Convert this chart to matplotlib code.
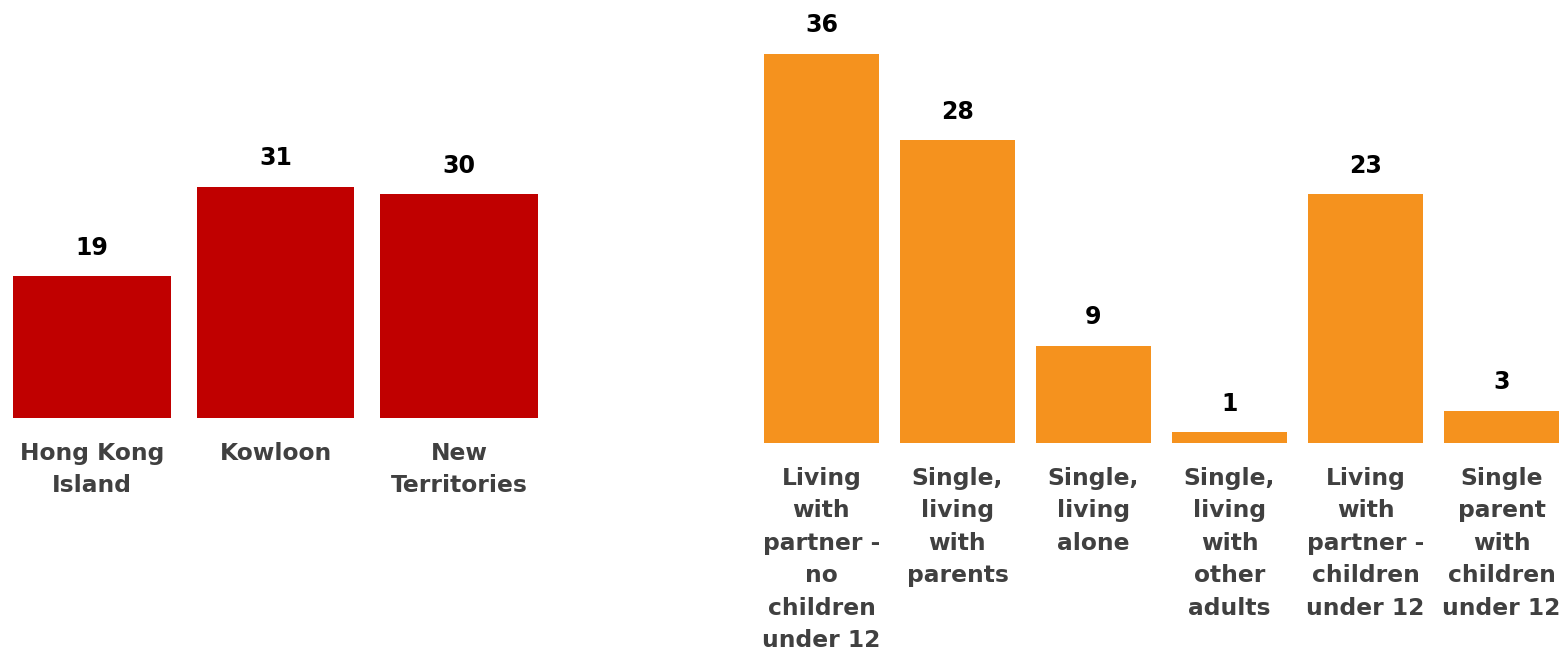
import matplotlib.pyplot as plt

# district split
districts = ["Hong Kong\nIsland", "Kowloon", "New\nTerritories"]
district_pct = [19, 31, 30]

# household type split
households = [
    "Living\nwith\npartner -\nno\nchildren\nunder 12",
    "Single,\nliving\nwith\nparents",
    "Single,\nliving\nalone",
    "Single,\nliving\nwith\nother\nadults",
    "Living\nwith\npartner -\nchildren\nunder 12",
    "Single\nparent\nwith\nchildren\nunder 12",
]
household_pct = [36, 28, 9, 1, 23, 3]

plt.rcParams['font.family'] = ['DejaVu Sans']
plt.rcParams['font.weight'] = 'bold'

W, H = 1566, 655
fig = plt.figure(figsize=(W / 100, H / 100), dpi=100)

# axes placed in pixel terms: left, baseline, right
ax1 = fig.add_axes([13 / W, (H - 418) / H, 525 / W, 418 / H])
ax2 = fig.add_axes([764 / W, (H - 443) / H, 795 / W, 443 / H])


def draw(ax, labels, values, color, width, ymax):
    x = range(len(values))
    bars = ax.bar(x, values, width=width, color=color)
    for b, v in zip(bars, values):
        ax.annotate(str(v), (b.get_x() + b.get_width() / 2, v),
                    xytext=(0, 12), textcoords='offset points',
                    ha='center', va='bottom', fontsize=17,
                    color='black', fontweight='bold')
    ax.set_xlim(-width / 2, len(values) - 1 + width / 2)
    ax.set_ylim(0, ymax)
    ax.set_xticks(list(x))
    ax.set_xticklabels(labels, fontsize=16.8, color='#404040',
                       linespacing=1.53)
    ax.tick_params(axis='x', length=0, pad=17)
    ax.set_yticks([])
    for s in ax.spines.values():
        s.set_visible(False)


draw(ax1, districts, district_pct, '#C00000', 0.86, 56.1)
draw(ax2, households, household_pct, '#F5921E', 0.845, 41.0)

fig.savefig('out.png', dpi=100)
